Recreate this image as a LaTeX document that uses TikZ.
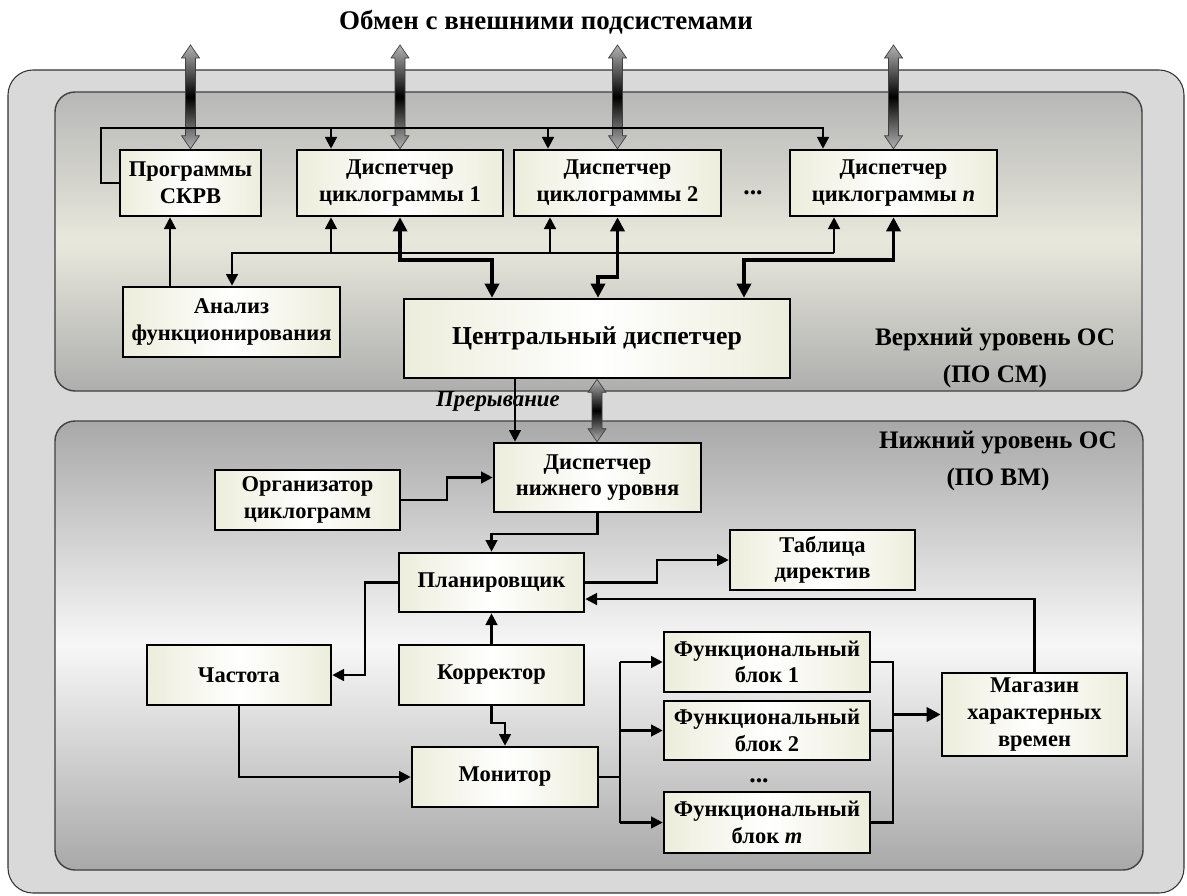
\documentclass[tikz,border=0pt]{standalone}
\usepackage{fontspec}
\setmainfont{Liberation Serif}
\usetikzlibrary{arrows.meta,calc}
\definecolor{outerfill}{HTML}{D9D9D9}
\definecolor{panTop}{HTML}{B7B7B7}
\definecolor{panMidA}{HTML}{E8E8DC}
\definecolor{panMidB}{HTML}{F7F7F7}
\definecolor{boxEdge}{HTML}{EDEDDC}
\newcommand\bx[6]{\node[blk, minimum width={(#4-#2)*0.03cm}, minimum height={(#5-#3)*0.03cm}] (#1) at ({(#2+#4)/2},{(#3+#5)/2}) {#6};}
\newcommand\garrow[2]{%
  \path (#1) coordinate (ga) (#2) coordinate (gb);
  \shade[gar] (ga) -- ($(ga)+(9,13)$) -- ($(ga)+(5,13)$) -- ($(gb)+(5,-13)$) -- ($(gb)+(9,-13)$) -- (gb) -- ($(gb)+(-9,-13)$) -- ($(gb)+(-5,-13)$) -- ($(ga)+(-5,13)$) -- ($(ga)+(-9,13)$) -- cycle;}
\begin{document}
\begin{tikzpicture}[x=0.03cm,y=-0.03cm,
  blk/.style={draw=black, line width=2.2pt, inner sep=1pt, align=center,
    left color=boxEdge, right color=boxEdge, middle color=white,
    font=\bfseries\fontsize{19.2}{22.7}\selectfont},
  ln0/.style={line width=1.9pt},
  ln/.style={line width=1.9pt, -{Triangle[length=10pt,width=10pt]}},
  thk/.style={line width=2.9pt, {Triangle[length=12pt,width=12pt]}-{Triangle[length=12pt,width=12pt]}},
  thk1/.style={line width=2.9pt, -{Triangle[length=12pt,width=12pt]}},
  gar/.style={top color=gray!60, bottom color=gray!60, middle color=black, draw=black!75, line width=0.6pt},
  lbl/.style={align=center, font=\bfseries\fontsize{21.5}{31}\selectfont},
  dotsty/.style={font=\bfseries\fontsize{22}{22}\selectfont, inner sep=0pt, anchor=base},
  panel/.style={draw=black!75, line width=1.2pt, rounded corners=20*0.03cm}]
\useasboundingbox (0,0) rectangle (1187,895);
% title
\node[font=\bfseries\fontsize{23}{27}\selectfont] (title) at (546,22) {Обмен с внешними подсистемами};
% outer and panels
\draw[draw=black!80, line width=0.9pt, fill=outerfill, rounded corners=25*0.03cm] (8,70) rectangle (1184,893);
\shade[panel, top color=panTop, bottom color=panTop!95!black, middle color=panMidA] (55,92) rectangle (1142,391);
\shade[panel, top color=panTop!92!black, bottom color=panTop!92!black, middle color=panMidB] (55,421) rectangle (1143,870);
% labels
\node[lbl] (upl) at (995,358) {Верхний уровень ОС\\(ПО СМ)};
\node[lbl] (lowl) at (998,461) {Нижний уровень ОС\\(ПО ВМ)};
% upper boxes
\bx{prog}{120}{150}{261}{216}{Программы\\СКРВ}
\bx{d1}{297}{150}{503}{216}{Диспетчер\\циклограммы 1}
\bx{d2}{514}{150}{721}{216}{Диспетчер\\циклограммы 2}
\bx{dn}{790}{150}{997}{216}{Диспетчер\\циклограммы \textit{n}}
\node[dotsty] (dots1) at (753,194) {...};
\bx{anal}{123}{287}{340}{357}{Анализ\\функционирования}
\node[blk, font=\bfseries\fontsize{22}{26}\selectfont, minimum width={386*0.03cm}, minimum height={79*0.03cm}] (central) at (597,338.5) {Центральный диспетчер};
% lower boxes
\bx{dl}{494}{443}{701}{512}{Диспетчер\\нижнего уровня}
\bx{org}{215}{470}{400}{530}{Организатор\\циклограмм}
\bx{tab}{730}{530}{915}{590}{Таблица\\директив}
\bx{plan}{399}{553}{584}{612}{Планировщик}
\bx{freq}{147}{645}{331}{705}{Частота}
\bx{korr}{399}{645}{584}{705}{Корректор}
\bx{mon}{412}{747}{598}{807}{Монитор}
\bx{fb1}{664}{632}{870}{692}{Функциональный\\блок 1}
\bx{fb2}{664}{701}{870}{760}{Функциональный\\блок 2}
\bx{fbm}{664}{792}{870}{853}{Функциональный\\блок \textit{m}}
\node[dotsty] (dots2) at (759,782) {...};
\bx{mag}{942}{673}{1127}{756}{Магазин\\характерных\\времен}
% external gray arrows
\coordinate (top) at (0,45);
\garrow{prog.north |- top}{prog.north}
\garrow{d1.north |- top}{d1.north}
\garrow{d2.north |- top}{d2.north}
\garrow{dn.north |- top}{dn.north}
\garrow{central.south}{central.south |- dl.north}
% top bus
\coordinate (b0) at (101,183);
\coordinate (b1) at (101,128);
\coordinate (bA) at (331,128);
\coordinate (bB) at (548,128);
\coordinate (bC) at (823,128);
\draw[ln] (prog.west) -- (b0) -- (b1) -- (bC) -- (bC |- dn.north);
\draw[ln] (bA) -- (bA |- d1.north);
\draw[ln] (bB) -- (bB |- d2.north);
% analysis bus
\coordinate (a0) at (232,253);
\coordinate (a1) at (331,253);
\coordinate (a2) at (550,253);
\coordinate (a3) at (834,253);
\draw[ln] (a3) -- (a0) -- (a0 |- anal.north);
\draw[ln] (a1) -- (a1 |- d1.south);
\draw[ln] (a2) -- (a2 |- d2.south);
\draw[ln] (a3) -- (a3 |- dn.south);
\coordinate (p0) at (170,0);
\draw[ln] (p0 |- anal.north) -- (p0 |- prog.south);
% thick links to central
\coordinate (c1) at (0,260);
\coordinate (c2) at (492,0);
\draw[thk] (d1.south) -- (d1.south |- c1) -- (c2 |- c1) -- (c2 |- central.north);
\coordinate (c3) at (0,277);
\coordinate (c4) at (598,0);
\draw[thk] (d2.south) -- (d2.south |- c3) -- (c4 |- c3) -- (c4 |- central.north);
\coordinate (c5) at (744,0);
\draw[thk] (dn.south) -- (dn.south |- c1) -- (c5 |- c1) -- (c5 |- central.north);
% interrupt
\coordinate (i0) at (515,0);
\draw[ln] (i0 |- central.south) -- (i0 |- dl.north);
\node[font=\bfseries\itshape\fontsize{19.5}{22}\selectfont] (intr) at (498,401) {Прерывание};
% lower links
\coordinate (o1) at (447,0);
\draw[ln] (org.east) -- (org.east -| o1) -- (o1 |- dl.west) -- (dl.west);
\coordinate (q1) at (0,534);
\draw[ln] (dl.south) -- (dl.south |- q1) -- (plan.north |- q1) -- (plan.north);
\coordinate (f1) at (365,0);
\draw[ln] (plan.west) -- (plan.west -| f1) -- (f1 |- freq.east) -- (freq.east);
\coordinate (t1) at (657,0);
\draw[ln] (plan.east) -- (plan.east -| t1) -- (t1 |- tab.west) -- (tab.west);
\coordinate (m1) at (0,599);
\draw[ln] (mag.north) -- (mag.north |- m1) -- (plan.east |- m1);
\draw[ln] (korr.north) -- (plan.south);
\coordinate (k1) at (0,723);
\draw[ln] (korr.south) -- (korr.south |- k1) -- (mon.north |- k1) -- (mon.north);
\draw[ln] (freq.south) |- (mon.west);
\coordinate (s1) at (620,0);
\draw[ln0] (mon.east) -- (mon.east -| s1);
\draw[ln0] (s1 |- fb1.west) -- (s1 |- fbm.west);
\draw[ln] (s1 |- fb1.west) -- (fb1.west);
\draw[ln] (s1 |- fb2.west) -- (fb2.west);
\draw[ln] (s1 |- fbm.west) -- (fbm.west);
\coordinate (r1) at (893,0);
\draw[ln0] (fb1.east) -- (fb1.east -| r1) -- (r1 |- fbm.east) -- (fbm.east);
\draw[ln0] (fb2.east) -- (fb2.east -| r1);
\draw[thk1] (r1 |- mag.west) -- (mag.west);
\end{tikzpicture}
\end{document}
